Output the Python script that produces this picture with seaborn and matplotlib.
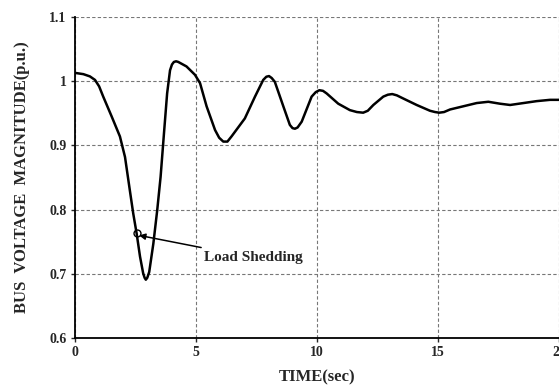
"""
Bus voltage magnitude after load shedding.
"""
import pandas as pd
import matplotlib
matplotlib.use('Agg')
import matplotlib.pyplot as plt
import seaborn as sns

# Values
time_sec = [0.0, 0.35, 0.62, 0.83, 1.0, 1.17, 1.52, 1.86, 2.07, 2.27, 2.41, 2.55, 2.69,
            2.82, 2.88, 2.93, 2.99, 3.07, 3.24, 3.40, 3.54, 3.68, 3.81, 3.93, 4.01,
            4.09, 4.18, 4.27, 4.61, 4.96, 5.17, 5.44, 5.79, 5.96, 6.13, 6.30, 6.47,
            7.02, 7.44, 7.78, 7.91, 8.02, 8.13, 8.26, 8.61, 8.88, 8.99, 9.09, 9.20,
            9.37, 9.78, 9.95, 10.10, 10.25, 10.40, 10.88, 11.36, 11.65, 11.91, 12.10,
            12.33, 12.74, 12.93, 13.11, 13.30, 13.57, 14.12, 14.67, 14.88, 15.05,
            15.25, 15.50, 16.05, 16.60, 17.08, 17.56, 17.98, 18.53, 19.08, 19.63, 20.0]
voltage_pu = [1.013, 1.011, 1.0075, 1.002, 0.992, 0.976, 0.945, 0.914, 0.882, 0.830,
              0.794, 0.763, 0.727, 0.701, 0.694, 0.691, 0.694, 0.703, 0.747, 0.799,
              0.851, 0.919, 0.981, 1.017, 1.026, 1.030, 1.031, 1.030, 1.023, 1.010,
              0.997, 0.961, 0.924, 0.912, 0.906, 0.906, 0.914, 0.942, 0.976, 1.002,
              1.007, 1.008, 1.005, 0.999, 0.961, 0.932, 0.927, 0.926, 0.928, 0.937,
              0.976, 0.983, 0.986, 0.985, 0.981, 0.965, 0.955, 0.952, 0.951, 0.954,
              0.963, 0.976, 0.979, 0.980, 0.978, 0.973, 0.963, 0.954, 0.952, 0.951,
              0.952, 0.956, 0.961, 0.966, 0.968, 0.965, 0.963, 0.966, 0.969, 0.971,
              0.971]
shed_time = 2.55
shed_voltage = 0.763
x_ticks = [0, 5, 10, 15, 20]
y_ticks = [0.6, 0.7, 0.8, 0.9, 1.0, 1.1]
y_tick_labels = ['0.6', '0.7', '0.8', '0.9', '1', '1.1']

sns.set_style('white')
plt.rcParams['font.family'] = ['Liberation Serif', 'DejaVu Serif']
plt.rcParams['font.weight'] = 'bold'

df = pd.DataFrame({'t': time_sec, 'v': voltage_pu})

fig = plt.figure(figsize=(5.59, 3.86), dpi=100)
ax = fig.add_axes([0.134, 0.124, 0.866, 0.832])

sns.lineplot(data=df, x='t', y='v', color='black', linewidth=1.8, ax=ax)

# load shedding point
ax.plot([shed_time], [shed_voltage], marker='o', markersize=5, markerfacecolor='none',
        markeredgecolor='black', markeredgewidth=1.0)
ax.annotate('Load Shedding', xy=(shed_time + 0.1, shed_voltage - 0.003),
            xytext=(5.35, 0.725), fontsize=11, fontweight='bold', va='center',
            arrowprops=dict(arrowstyle='-|>', color='black', lw=1.1,
                            mutation_scale=9, shrinkA=2, shrinkB=0))

ax.set_xlim(0, 20)
ax.set_ylim(0.6, 1.1)
ax.set_xticks(x_ticks)
ax.set_yticks(y_ticks)
ax.set_yticklabels(y_tick_labels)
ax.tick_params(axis='both', labelsize=10, length=3, width=1, direction='out',
               left=True, bottom=True, pad=3)
for lbl in ax.get_xticklabels() + ax.get_yticklabels():
    lbl.set_fontweight('bold')

ax.grid(True, linestyle=(0, (3, 2)), color='#777777', linewidth=0.8)
for side in ['top', 'right']:
    ax.spines[side].set_visible(False)
for side in ['left', 'bottom']:
    ax.spines[side].set_color('black')
    ax.spines[side].set_linewidth(1.3)

ax.set_xlabel('TIME(sec)', fontsize=12, fontweight='bold', labelpad=7)
ax.set_ylabel('BUS  VOLTAGE  MAGNITUDE(p.u.)', fontsize=12, fontweight='bold', labelpad=14)

fig.savefig('out.png', dpi=100)
